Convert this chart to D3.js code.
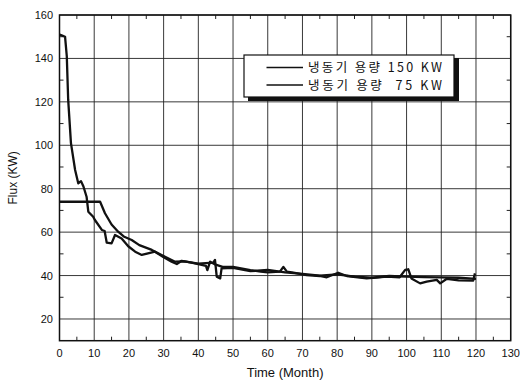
<!DOCTYPE html>
<html>
<head>
<meta charset="utf-8">
<script src="https://cdn.jsdelivr.net/npm/d3@7"></script>
<style>
  body { margin: 0; background: #fff; }
  text { font-family: "Liberation Sans", Arial, sans-serif; fill: #111; }
  .kr { font-family: "Noto Sans CJK KR", sans-serif; }
</style>
</head>
<body>
<svg id="chart" width="520" height="381"></svg>
<script>
// series data: [month, flux]
var seriesNames = ['냉동기 용량 150 KW', '냉동기 용량  75 KW'];
var flux150 = [[0,151],[0.8,150.5],[1.6,150],[2.1,141],[2.5,121],[3.3,101],[4.5,88.6],[5.4,82.5],[6.2,83.5],
  [6.9,81],[7.8,76.3],[8.3,69.4],[9.7,67.1],[10.2,65.6],[12.2,61],[13,60.5],[13.6,55.2],[15,54.8],[16,58.7],
  [17.9,57.1],[19.8,53.5],[21.8,51],[23.7,49.5],[25.5,50.2],[27.5,51],[29.9,48.5],[32.3,46.4],[33.8,45.3],
  [35.2,46.8],[38,46],[40,45.3],[42.2,44.5],[42.6,42.5],[43.4,46.4],[45,45],[47,44],[50,44],[55,42.5],
  [58,41.8],[60,41.5],[63.5,41.8],[64.5,44],[65.5,41.8],[67.4,41.3],[71.2,40.2],[75,39.8],[77,39.2],
  [80.3,41.3],[82.8,39.8],[88.5,38.7],[94.3,39.5],[98,39.2],[99.6,42.6],[100.5,42.9],[101.4,38.7],
  [103.9,36.4],[105.8,37.2],[108.7,38],[109.7,36.4],[111.6,38.5],[115,37.8],[119.2,37.7],[119.7,41]];
var flux75 = [[0,74],[5,74],[11.7,74],[13.1,68.7],[15,63.5],[16.9,60.2],[18.5,58],[20.8,56.4],[23,54],
  [26.6,51.8],[30.4,48.7],[33.3,46.4],[36,46.5],[40,45.5],[44.3,46],[44.8,47.2],[45.3,39.5],[46.3,38.7],
  [46.7,43.3],[50,43.5],[55,42],[60,42.6],[65,41.5],[70,40.8],[75,40],[80,40.5],[85,39.5],[90,39],
  [95,39.8],[100,39.5],[105,39.3],[110,39.2],[115,39],[120,38.5]];
var xTicks = d3.range(0, 131, 10);
var yTicks = d3.range(20, 161, 20);

var svg = d3.select('#chart');
var plotLeft = 59.5, plotRight = 510.7, plotTop = 15, plotBottom = 340.7;

var x = d3.scaleLinear().domain([0, 130]).range([plotLeft, plotRight]);
var y = d3.scaleLinear().domain([10, 160]).range([plotBottom, plotTop]);

// grid
svg.append('g').selectAll('line').data(xTicks).enter().append('line')
  .attr('x1', d => x(d)).attr('x2', d => x(d))
  .attr('y1', plotTop).attr('y2', plotBottom)
  .attr('stroke', '#222').attr('stroke-width', 0.9);
svg.append('g').selectAll('line').data(yTicks).enter().append('line')
  .attr('x1', plotLeft).attr('x2', plotRight)
  .attr('y1', d => y(d)).attr('y2', d => y(d))
  .attr('stroke', '#222').attr('stroke-width', 0.9);

// minor ticks
var xMinor = d3.range(5, 130, 10);
svg.append('g').selectAll('line').data(xMinor).enter().append('line')
  .attr('x1', d => x(d)).attr('x2', d => x(d))
  .attr('y1', plotBottom).attr('y2', plotBottom - 4)
  .attr('stroke', '#222');
svg.append('g').selectAll('line').data(xMinor).enter().append('line')
  .attr('x1', d => x(d)).attr('x2', d => x(d))
  .attr('y1', plotTop).attr('y2', plotTop + 4)
  .attr('stroke', '#222');
var yMinor = d3.range(30, 160, 20);
svg.append('g').selectAll('line').data(yMinor).enter().append('line')
  .attr('x1', plotLeft).attr('x2', plotLeft + 4)
  .attr('y1', d => y(d)).attr('y2', d => y(d))
  .attr('stroke', '#222');
svg.append('g').selectAll('line').data(yMinor).enter().append('line')
  .attr('x1', plotRight).attr('x2', plotRight - 4)
  .attr('y1', d => y(d)).attr('y2', d => y(d))
  .attr('stroke', '#222');

// frame
svg.append('rect')
  .attr('x', plotLeft).attr('y', plotTop)
  .attr('width', plotRight - plotLeft).attr('height', plotBottom - plotTop)
  .attr('fill', 'none').attr('stroke', '#111').attr('stroke-width', 1.5);

// tick labels
svg.append('g').selectAll('text').data(xTicks).enter().append('text')
  .attr('x', d => x(d)).attr('y', 357)
  .attr('text-anchor', 'middle').attr('font-size', 11)
  .text(d => d);
svg.append('g').selectAll('text').data(yTicks).enter().append('text')
  .attr('x', 53).attr('y', d => y(d) + 4)
  .attr('text-anchor', 'end').attr('font-size', 11)
  .text(d => d);

// axis titles
svg.append('text')
  .attr('x', x(65)).attr('y', 377)
  .attr('text-anchor', 'middle').attr('font-size', 13)
  .text('Time (Month)');
svg.append('text')
  .attr('transform', 'translate(17,' + y(85) + ') rotate(-90)')
  .attr('text-anchor', 'middle').attr('font-size', 12)
  .text('Flux (KW)');

// data lines
var line = d3.line().x(d => x(d[0])).y(d => y(d[1]));
[flux150, flux75].forEach(function (s) {
  svg.append('path').datum(s)
    .attr('d', line)
    .attr('fill', 'none').attr('stroke', '#111')
    .attr('stroke-width', 2.3).attr('stroke-linejoin', 'round');
});

// legend with drop shadow
var lg = svg.append('g').attr('transform', 'translate(244,55)');
lg.append('rect').attr('x', 4).attr('y', 3).attr('width', 211).attr('height', 43).attr('fill', '#111');
lg.append('rect').attr('x', 0).attr('y', 0).attr('width', 210).attr('height', 42)
  .attr('fill', '#fff').attr('stroke', '#111').attr('stroke-width', 1.2);
var row = lg.selectAll('g.row').data(seriesNames).enter().append('g')
  .attr('class', 'row')
  .attr('transform', (d, i) => 'translate(0,' + (12.5 + i * 17.5) + ')');
row.append('line').attr('x1', 22.5).attr('x2', 59).attr('y1', 0).attr('y2', 0)
  .attr('stroke', '#111').attr('stroke-width', 1.3);
row.append('text').attr('class', 'kr').attr('x', 64).attr('y', 4.5)
  .attr('font-size', 12.5).style('white-space', 'pre')
  .attr('textLength', 134).attr('lengthAdjust', 'spacing')
  .text(d => d);
</script>
</body>
</html>
